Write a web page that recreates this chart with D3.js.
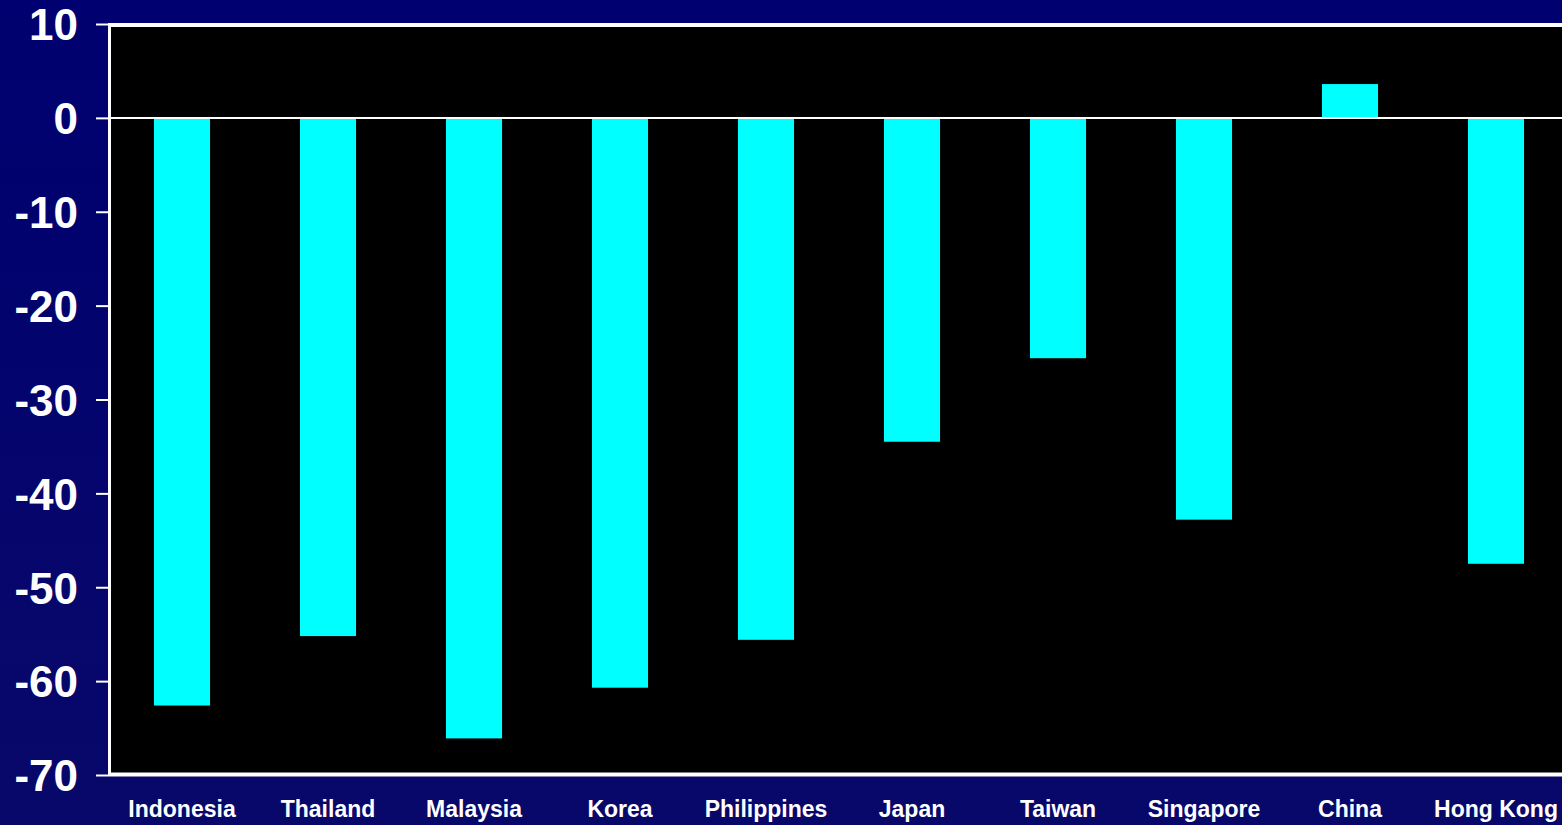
<!DOCTYPE html>
<html>
<head>
<meta charset="utf-8">
<script src="https://cdn.jsdelivr.net/npm/d3@7"></script>
<style>
html,body{margin:0;padding:0;overflow:hidden;background:#000070;}
svg{display:block;}
</style>
</head>
<body>
<svg id="chart" width="1562" height="825"></svg>
<script>
const categories = ["Indonesia","Thailand","Malaysia","Korea","Philippines","Japan","Taiwan","Singapore","China","Hong Kong"];
const values = [-62.6, -55.2, -66.1, -60.7, -55.6, -34.5, -25.6, -42.8, 3.6, -47.5];
const yTicks = [10, 0, -10, -20, -30, -40, -50, -60, -70];

(function(){
const W = 1562, H = 825;
const svg = d3.select("#chart");

const defs = svg.append("defs");
const grad = defs.append("linearGradient").attr("id","bg").attr("x1",0).attr("y1",0).attr("x2",0).attr("y2",1);
grad.append("stop").attr("offset","0%").attr("stop-color","#000070");
grad.append("stop").attr("offset","100%").attr("stop-color","#08086a");
svg.append("rect").attr("width",W).attr("height",H).attr("fill","url(#bg)");

const mLeft = 109, mTop = 24, mBottom = 775;
const x = d3.scaleBand().domain(categories).range([mLeft, mLeft + 1460]).paddingInner(0.616).paddingOuter(0.308);
const y = d3.scaleLinear().domain([-70, 10]).range([mBottom, mTop]);

// plot area
svg.append("rect").attr("x", mLeft).attr("y", y(10)).attr("width", W - mLeft + 10).attr("height", y(-70) - y(10)).attr("fill", "#000");

// bars
svg.append("g").selectAll("rect").data(values).join("rect")
  .attr("x", (d,i) => x(categories[i]))
  .attr("width", x.bandwidth())
  .attr("y", d => y(Math.max(0, d)))
  .attr("height", d => Math.abs(y(d) - y(0)))
  .attr("fill", "#00ffff");

// zero line
svg.append("line").attr("x1", mLeft).attr("x2", W).attr("y1", y(0)).attr("y2", y(0))
  .attr("stroke", "#fff").attr("stroke-width", 2);
// top and bottom border
svg.append("line").attr("x1", mLeft).attr("x2", W).attr("y1", y(10)+1).attr("y2", y(10)+1)
  .attr("stroke", "#fff").attr("stroke-width", 4);
svg.append("line").attr("x1", mLeft).attr("x2", W).attr("y1", y(-70)-0.5).attr("y2", y(-70)-0.5)
  .attr("stroke", "#fff").attr("stroke-width", 4);

// y axis
const yAxis = d3.axisLeft(y).tickValues(yTicks).tickSize(13).tickPadding(18).tickFormat(d => String(d));
const ga = svg.append("g").attr("transform", `translate(${mLeft},0)`).call(yAxis);
ga.select(".domain").attr("stroke", "#fff").attr("stroke-width", 3).attr("d", `M0.5,${y(10)-1}V${y(-70)+1}`);
ga.selectAll(".tick line").attr("stroke", "#fff").attr("stroke-width", 2);
ga.selectAll(".tick text").attr("fill", "#fff")
  .style("font-family", "'Liberation Sans', Arial, sans-serif")
  .style("font-weight", "bold").style("font-size", "44px").attr("dy", "0.36em");

// x labels
const gx = d3.axisBottom(x).tickSize(0).tickPadding(26);
const gb = svg.append("g").attr("transform", `translate(0,${mBottom})`).call(gx);
gb.select(".domain").remove();
gb.selectAll(".tick text").attr("fill", "#fff")
  .style("font-family", "'Liberation Sans', Arial, sans-serif")
  .style("font-weight", "bold").style("font-size", "23px");
})();
</script>
</body>
</html>
